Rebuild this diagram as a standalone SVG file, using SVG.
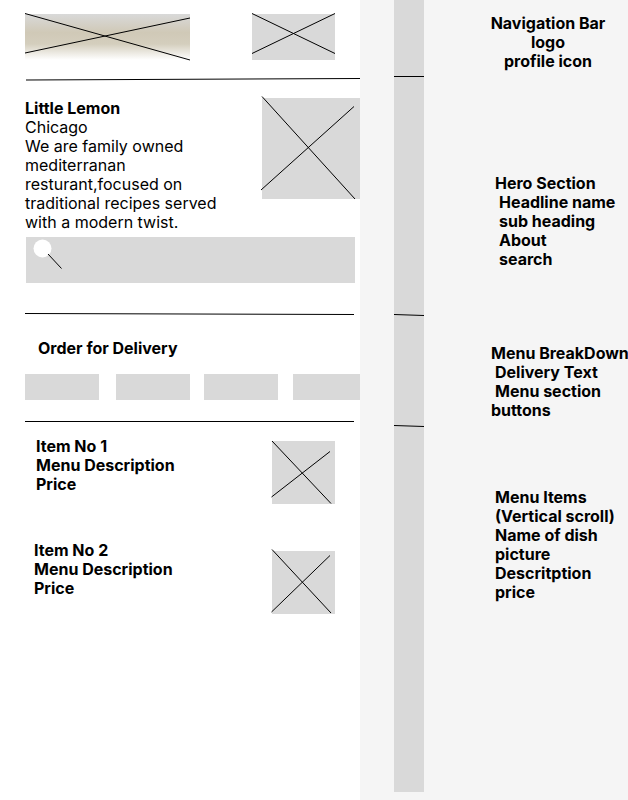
<svg xmlns="http://www.w3.org/2000/svg" width="628" height="800" viewBox="0 0 628 800">
<defs>
<linearGradient id="logoFill" x1="0" y1="0" x2="0" y2="1">
<stop offset="0" stop-color="#d9d9d9"/>
<stop offset="0.4" stop-color="#d0c9b7"/>
<stop offset="0.65" stop-color="#d4cebd"/>
<stop offset="1" stop-color="#ffffff"/>
</linearGradient>
</defs>
<style>
text{font-family:Inter,"Liberation Sans",sans-serif;font-size:16px;fill:#000}
.b{font-weight:700}
.box{fill:#d9d9d9}
line{stroke:#000;stroke-width:1;fill:none}
</style>
<rect width="628" height="800" fill="#fff"/>
<rect id="annotation-panel" x="360" y="0" width="268" height="800" fill="#f5f5f5"/>
<rect id="section-bar" class="box" x="394" y="0" width="30" height="792"/>
<g id="logo"><rect x="25" y="14" width="165" height="46" fill="url(#logoFill)"/><line x1="25" y1="13.500" x2="190" y2="60"/><line x1="25" y1="53" x2="190" y2="18"/></g>
<g id="profile-icon"><rect class="box" x="252" y="14" width="83" height="46"/><line x1="252" y1="13.500" x2="335" y2="53.500"/><line x1="252" y1="53.500" x2="335" y2="13.500"/></g>
<g id="hero-image"><rect class="box" x="262" y="98" width="98" height="101"/><line x1="262" y1="96.500" x2="355" y2="199"/><line x1="261" y1="190" x2="354" y2="106.500"/></g>
<g id="hero-text"><text class="b" x="25" y="114">Little Lemon</text><text x="25" y="133">Chicago</text><text x="25" y="152">We are family owned</text><text x="25" y="171">mediterranan</text><text x="25" y="190">resturant,focused on</text><text x="25" y="209">traditional recipes served</text><text x="25" y="228">with a modern twist.</text></g>
<g id="search"><rect class="box" x="26" y="237" width="329" height="46"/><circle cx="42.500" cy="248.500" r="9" fill="#fff"/><line x1="48" y1="254" x2="61.500" y2="268.500"/></g>
<g id="delivery"><text class="b" x="38" y="354">Order for Delivery</text></g>
<g id="button-1"><rect class="box" x="25" y="374" width="74" height="26"/></g>
<g id="button-2"><rect class="box" x="116" y="374" width="74" height="26"/></g>
<g id="button-3"><rect class="box" x="204" y="374" width="74" height="26"/></g>
<g id="button-4"><rect class="box" x="293" y="374" width="67" height="26"/></g>
<g id="item-1"><text class="b" x="36" y="452">Item No 1</text><text class="b" x="36" y="471">Menu Description</text><text class="b" x="36" y="490">Price</text><rect class="box" x="272" y="441" width="63" height="63"/><line x1="272" y1="441" x2="331" y2="503.500"/><line x1="271.500" y1="497" x2="330" y2="451.500"/></g>
<g id="item-2"><text class="b" x="34" y="556">Item No 2</text><text class="b" x="34" y="575">Menu Description</text><text class="b" x="34" y="594">Price</text><rect class="box" x="272" y="551" width="63" height="63"/><line x1="272" y1="549.500" x2="331" y2="613"/><line x1="271.500" y1="612" x2="330" y2="555.500"/></g>
<g id="dividers"><line x1="26" y1="80" x2="360" y2="78.500"/><line x1="25" y1="313.500" x2="354" y2="314.500"/><line x1="25" y1="421.500" x2="354" y2="421.500"/><line x1="394" y1="76.500" x2="424" y2="76.500"/><line x1="394" y1="314.500" x2="424" y2="315.500"/><line x1="394" y1="425.500" x2="424" y2="426.500"/></g>
<g id="note-nav"><text class="b" x="548" y="29" text-anchor="middle">Navigation Bar</text><text class="b" x="548" y="48" text-anchor="middle">logo</text><text class="b" x="548" y="67" text-anchor="middle">profile icon</text></g>
<g id="note-hero"><text class="b" x="495" y="189">Hero Section</text><text class="b" x="499" y="208">Headline name</text><text class="b" x="499" y="227">sub heading</text><text class="b" x="499" y="246">About</text><text class="b" x="499" y="265">search</text></g>
<g id="note-breakdown"><text class="b" x="491" y="359">Menu BreakDown</text><text class="b" x="495" y="378">Delivery Text</text><text class="b" x="495" y="397">Menu section</text><text class="b" x="491" y="416">buttons</text></g>
<g id="note-items"><text class="b" x="495" y="503">Menu Items</text><text class="b" x="495" y="522">(Vertical scroll)</text><text class="b" x="495" y="541">Name of dish</text><text class="b" x="495" y="560">picture</text><text class="b" x="495" y="579">Descritption</text><text class="b" x="495" y="598">price</text></g>
</svg>
